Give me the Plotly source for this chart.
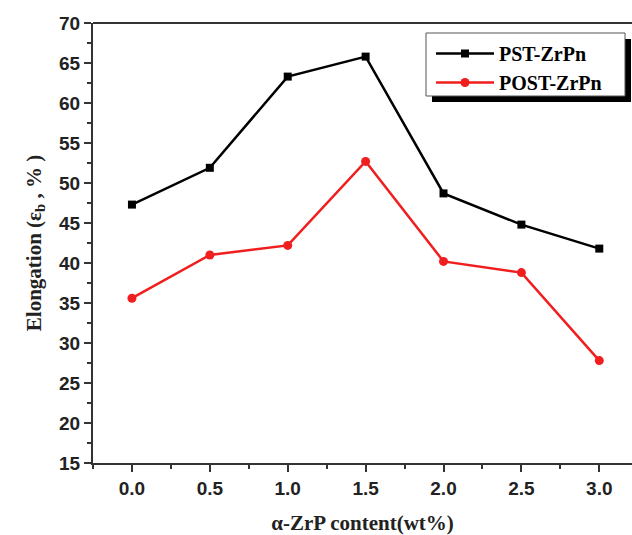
import plotly.graph_objects as go

x_vals = [0.0, 0.5, 1.0, 1.5, 2.0, 2.5, 3.0]
pst = [47.3, 51.9, 63.3, 65.8, 48.7, 44.8, 41.8]
post = [35.6, 41.0, 42.2, 52.7, 40.2, 38.8, 27.8]
x_ticks = [0.0, 0.5, 1.0, 1.5, 2.0, 2.5, 3.0]
x_tick_labels = ["0.0", "0.5", "1.0", "1.5", "2.0", "2.5", "3.0"]
y_ticks = [15, 20, 25, 30, 35, 40, 45, 50, 55, 60, 65, 70]
y_tick_labels = [str(v) for v in y_ticks]

serif = "Liberation Serif, Times New Roman, serif"
sans = "Liberation Sans, Arial, sans-serif"

fig = go.Figure()
fig.add_trace(go.Scatter(x=x_vals, y=pst, mode="lines+markers", name="<b>PST-ZrPn</b>",
                         line=dict(color="black", width=2.5),
                         marker=dict(symbol="square", size=8, color="black")))
fig.add_trace(go.Scatter(x=x_vals, y=post, mode="lines+markers", name="<b>POST-ZrPn</b>",
                         line=dict(color="#f01e1e", width=2.5),
                         marker=dict(symbol="circle", size=9, color="#f01e1e")))

L, T, W, H = 93, 23, 539, 440

def px(xp):
    return (xp - L) / W

def py(yp):
    return 1 - (yp - T) / H

# legend shadow and box
fig.add_shape(type="rect", xref="paper", yref="paper",
              x0=px(432), x1=px(631), y0=py(102), y1=py(39),
              fillcolor="black", line=dict(width=0), layer="above")
fig.add_shape(type="rect", xref="paper", yref="paper",
              x0=px(426), x1=px(625), y0=py(96), y1=py(33),
              fillcolor="white", line=dict(color="#555", width=1), layer="above")
fig.add_shape(type="line", xref="paper", yref="paper", x0=0, x1=1, y0=1, y1=1,
              line=dict(color="#333", width=2))

fig.update_layout(
    width=632, height=535,
    margin=dict(l=L, r=632 - L - W, t=T, b=535 - T - H),
    paper_bgcolor="white", plot_bgcolor="white",
    showlegend=True,
    legend=dict(x=px(431), y=py(34), xanchor="left", yanchor="top",
                bgcolor="rgba(0,0,0,0)", borderwidth=0,
                font=dict(family=serif, size=20, color="black"),
                itemwidth=58, tracegroupgap=0),
    xaxis=dict(range=[-0.25, 3.21], tickvals=x_ticks,
               ticktext=["<b>%s</b>" % t for t in x_tick_labels],
               showline=True, linecolor="#333", linewidth=2, ticks="outside",
               ticklen=7, tickwidth=2, tickcolor="#333",
               minor=dict(dtick=0.25, tick0=0, ticks="outside", ticklen=4, tickwidth=2, tickcolor="#333"),
               showgrid=False, zeroline=False,
               tickfont=dict(family=sans, size=19, color="#222"),
               title=dict(text="<b>α-ZrP content(wt%)</b>", font=dict(family=serif, size=21, color="#222"), standoff=20)),
    yaxis=dict(range=[15, 70], tickvals=y_ticks,
               ticktext=["<b>%s</b>" % t for t in y_tick_labels],
               showline=True, linecolor="#333", linewidth=2, ticks="outside",
               ticklen=7, tickwidth=2, tickcolor="#333",
               minor=dict(dtick=2.5, tick0=15, ticks="outside", ticklen=4, tickwidth=2, tickcolor="#333"),
               showgrid=False, zeroline=False,
               tickfont=dict(family=sans, size=19, color="#222"),
               title=dict(text="<b>Elongation (ε<sub>b</sub> , % )</b>", font=dict(family=serif, size=21, color="#222"), standoff=12)),
)

fig.write_html("out.html")
